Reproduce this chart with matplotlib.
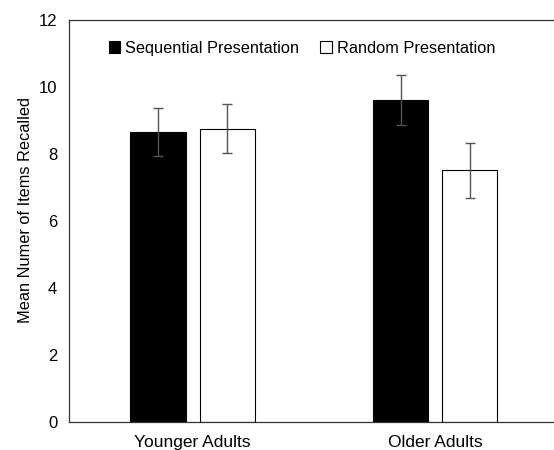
import numpy as np
import matplotlib
matplotlib.use("Agg")
import matplotlib.pyplot as plt

plt.rcParams['font.family'] = ['Liberation Sans', 'DejaVu Sans']

groups = ["Younger Adults", "Older Adults"]
series = ["Sequential Presentation", "Random Presentation"]
seq_means = [8.65, 9.62]
seq_err = [0.72, 0.75]
rand_means = [8.76, 7.52]
rand_err = [0.72, 0.82]

fig = plt.figure(figsize=(5.54, 4.5), dpi=100)
ax = fig.add_axes([0.1245, 0.0622, 0.88, 0.8934])

x = np.arange(len(groups))
w = 0.227
off = 0.143
ekw = dict(ecolor="#555555", elinewidth=1.0, capsize=3.5, capthick=1.0)
ax.bar(x - off, seq_means, w, yerr=seq_err, color="black", edgecolor="black",
       linewidth=0.8, label=series[0], error_kw=ekw)
ax.bar(x + off, rand_means, w, yerr=rand_err, color="white", edgecolor="black",
       linewidth=0.8, label=series[1], error_kw=ekw)

ax.set_xlim(-0.51, 1.50)
ax.set_ylim(0, 12)
ax.set_yticks([0, 2, 4, 6, 8, 10, 12])
ax.set_xticks(x)
ax.set_xticklabels(groups, fontsize=12.5)
ax.tick_params(axis="y", labelsize=12, length=0, pad=8.5)
ax.tick_params(axis="x", length=0, pad=9)
for s in ax.spines.values():
    s.set_color("#333333")
    s.set_linewidth(0.9)
ax.spines["right"].set_visible(False)
ax.set_ylabel("Mean Numer of Items Recalled", fontsize=11.8)
ax.yaxis.set_label_coords(-0.074, 0.527)

ax.legend(loc="upper center", bbox_to_anchor=(0.478, 0.985), ncol=2, frameon=False,
          fontsize=11.8, handlelength=0.7, handleheight=0.7, handletextpad=0.3,
          columnspacing=1.3)

fig.savefig("out.png", dpi=100, facecolor="white")
